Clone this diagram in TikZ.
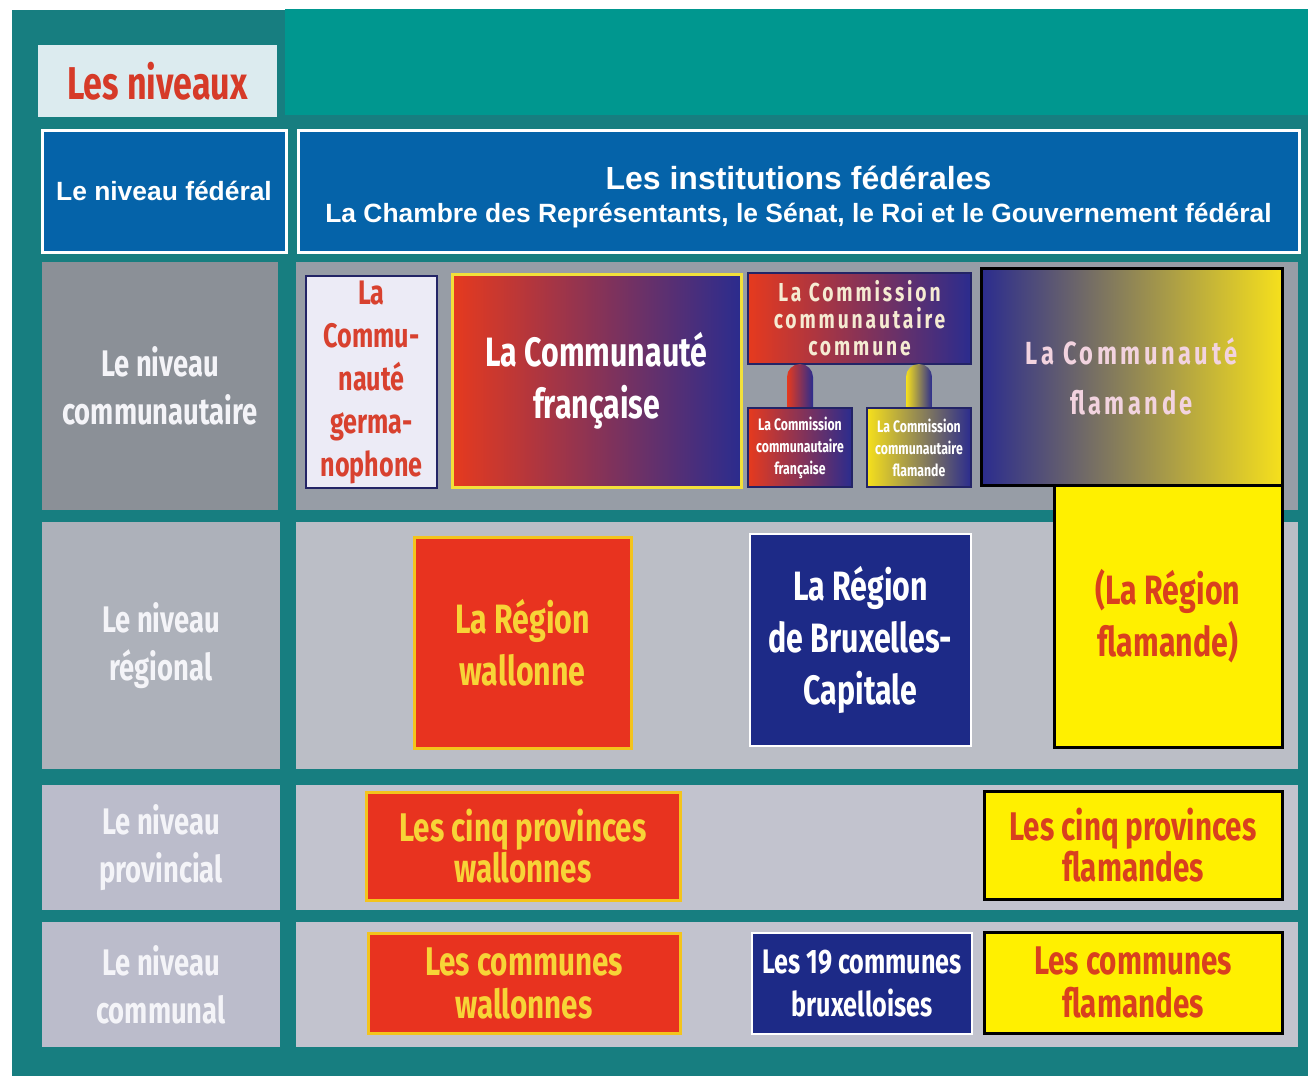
\documentclass[tikz,border=0pt]{standalone}
\usepackage{fontspec}
\setmainfont{Liberation Sans}
\newfontfamily\cnd[FakeStretch=0.74]{Fira Sans}
\newfontfamily\cndsp[FakeStretch=0.74,LetterSpace=11]{Fira Sans}
\usetikzlibrary{calc}
\definecolor{tealdk}{HTML}{177E80}
\definecolor{tealbr}{HTML}{00978F}
\definecolor{fedblue}{HTML}{0563A9}
\definecolor{titlebg}{HTML}{DCEBEF}
\definecolor{titlered}{HTML}{D63A28}
\definecolor{graydk}{HTML}{8B9097}
\definecolor{graymd}{HTML}{979DA6}
\definecolor{graylt}{HTML}{ADB1BA}
\definecolor{graylt2}{HTML}{BBBEC6}
\definecolor{graylv}{HTML}{BBBCCB}
\definecolor{graylv2}{HTML}{C2C3CE}
\definecolor{wred}{HTML}{E8331F}
\definecolor{wborder}{HTML}{F3C41C}
\definecolor{wtext}{HTML}{F7D437}
\definecolor{navy}{HTML}{1D2A87}
\definecolor{fyel}{HTML}{FFF000}
\definecolor{ftext}{HTML}{D9401E}
\definecolor{gerbg}{HTML}{ECEBF6}
\definecolor{gerbd}{HTML}{232466}
\definecolor{gertx}{HTML}{D8412F}
\definecolor{gred}{HTML}{E63A1E}
\definecolor{gblue}{HTML}{2B2C8E}
\definecolor{gyel}{HTML}{F6E01C}
\definecolor{fraborder}{HTML}{F2E03A}
\definecolor{cream}{HTML}{F5EBD2}
\definecolor{pinkw}{HTML}{F2D3DF}
\definecolor{lvltext}{HTML}{F4F4F8}
\newcommand\placebox[7]{\node[#6,minimum width={(#4-#2)*0.5pt},minimum height={(#5-#3)*0.5pt}] (#1) at ({(#2+#4)/2},{(#3+#5)/2}) {#7};}
\begin{document}
\begin{tikzpicture}[x=0.5pt,y=-0.5pt,
  plain/.style={inner sep=0,outer sep=0},
  titlebox/.style={plain,fill=titlebg,text=titlered,font=\cnd\bfseries\fontsize{23}{26}\selectfont},
  fedbox/.style={plain,fill=fedblue,draw=white,line width=1.5pt,text=white,align=center,font=\bfseries},
  lvl/.style={plain,text=lvltext,align=center,font=\cnd\bfseries\fontsize{18.5}{24}\selectfont},
  gerbox/.style={plain,fill=gerbg,draw=gerbd,line width=1.2pt,text=gertx,align=center,font=\cnd\bfseries\fontsize{17}{21.5}\selectfont},
  bigtxt/.style={font=\cnd\bfseries\fontsize{20.5}{26}\selectfont},
  provtxt/.style={font=\cnd\bfseries\fontsize{20}{20.5}\selectfont},
  commtxt/.style={font=\cnd\bfseries\fontsize{20}{21.5}\selectfont},
  bxltxt/.style={font=\cnd\bfseries\fontsize{17}{21.5}\selectfont},
  redbox/.style={plain,fill=wred,draw=wborder,line width=1.5pt,text=wtext,align=center},
  yelbox/.style={plain,fill=fyel,draw=black,line width=1.5pt,text=ftext,align=center},
  navybox/.style={plain,fill=navy,draw=white,line width=1.2pt,text=white,align=center},
  frabox/.style={plain,left color=gred,right color=gblue,draw=fraborder,line width=1.5pt,text=white,align=center},
  cccbox/.style={plain,left color=gred,middle color=gyel,right color=gblue,draw=gerbd,line width=0.8pt,text=cream,align=center,font=\cndsp\bfseries\fontsize{13}{13.5}\selectfont},
  subred/.style={plain,left color=gred,right color=gblue,draw=gerbd,line width=0.8pt,text=white,align=center,font=\cnd\bfseries\fontsize{8.3}{11}\selectfont},
  subyel/.style={plain,left color=gyel,right color=gblue,draw=gerbd,line width=0.8pt,text=white,align=center,font=\cnd\bfseries\fontsize{8.3}{11}\selectfont},
  flcbox/.style={plain,left color=gblue,right color=gyel,draw=black,line width=1.5pt,text=pinkw,align=center,font=\cndsp\bfseries\fontsize{16}{25}\selectfont},
  pilred/.style={left color=gred,right color=gblue},
  pilyel/.style={left color=gyel,right color=gblue}
]
\useasboundingbox (0,0) rectangle (1308,1076);
\fill[white] (0,0) rectangle (1308,1076);
% frame and bands
\placebox{frame}{12}{10}{1308}{1076}{plain,fill=tealdk}{}
\placebox{topband}{285}{9}{1308}{115}{plain,fill=tealbr}{}
\placebox{title}{38}{45}{277}{117}{titlebox}{Les niveaux}
% federal level
\placebox{fedL}{42}{130}{286}{252}{fedbox,font=\bfseries\fontsize{13.2}{16}\selectfont}{Le niveau fédéral}
\placebox{fedR}{298}{130}{1299}{252}{fedbox}{{\fontsize{16}{18}\selectfont\rule{0pt}{17.5pt}Les institutions fédérales}\\[4.5pt]{\fontsize{13.2}{15}\selectfont La Chambre des Représentants, le Sénat, le Roi et le Gouvernement fédéral}}
% level cells
\placebox{lvlC}{42}{262}{278}{510}{lvl,fill=graydk}{Le niveau\\communautaire}
\placebox{rowC}{296}{262}{1298}{510}{plain,fill=graymd}{}
\placebox{lvlR}{42}{522}{280}{769}{lvl,fill=graylt}{Le niveau\\régional}
\placebox{rowR}{296}{522}{1298}{769}{plain,fill=graylt2}{}
\placebox{lvlP}{42}{785}{280}{910}{lvl,fill=graylv}{Le niveau\\provincial}
\placebox{rowP}{296}{785}{1298}{910}{plain,fill=graylv2}{}
\placebox{lvlM}{42}{922}{280}{1047}{lvl,fill=graylv}{Le niveau\\communal}
\placebox{rowM}{296}{922}{1298}{1047}{plain,fill=graylv2}{}
% communities
\placebox{ger}{306}{276}{437}{488}{gerbox}{La\\Commu-\\nauté\\germa-\\nophone}
\placebox{fra}{452}{274}{741}{487}{frabox,bigtxt}{La Communauté\\française}
\placebox{ccc}{748}{273}{971}{364}{cccbox}{La Commission\\communautaire\\commune}
\placebox{cfr}{748}{408}{852}{487}{subred}{La Commission\\communautaire\\française}
\placebox{cfl}{867}{408}{971}{487}{subyel}{La Commission\\communautaire\\flamande}
\shade[pilred] ($(cfr.north)+(-6.5pt,0.6pt)$) -- ($(cfr.north |- ccc.south)+(-6.5pt,-6.5pt)$) arc[start angle=180,end angle=0,radius=6.5pt] -- ($(cfr.north)+(6.5pt,0.6pt)$) -- cycle;
\shade[pilyel] ($(cfl.north)+(-6.5pt,0.6pt)$) -- ($(cfl.north |- ccc.south)+(-6.5pt,-6.5pt)$) arc[start angle=180,end angle=0,radius=6.5pt] -- ($(cfl.north)+(6.5pt,0.6pt)$) -- cycle;
% regions
\placebox{rfl}{1054}{485}{1282}{747}{yelbox,bigtxt}{(La Région\\flamande)}
\placebox{flc}{981}{268}{1282}{485}{flcbox}{La Communauté\\flamande}
\placebox{rwa}{414}{537}{631}{748}{redbox,bigtxt}{La Région\\wallonne}
\placebox{rbx}{750}{534}{971}{746}{navybox,bigtxt}{La Région\\de Bruxelles-\\Capitale}
% provinces
\placebox{pwa}{366}{792}{680}{900}{redbox,provtxt}{Les cinq provinces\\wallonnes}
\placebox{pfl}{984}{791}{1282}{899}{yelbox,provtxt}{Les cinq provinces\\flamandes}
% communes
\placebox{cwa}{368}{933}{680}{1033}{redbox,commtxt}{Les communes\\wallonnes}
\placebox{cbx}{752}{933}{972}{1034}{navybox,bxltxt}{Les 19 communes\\bruxelloises}
\placebox{cfm}{984}{932}{1282}{1033}{yelbox,commtxt}{Les communes\\flamandes}
\end{tikzpicture}
\end{document}
